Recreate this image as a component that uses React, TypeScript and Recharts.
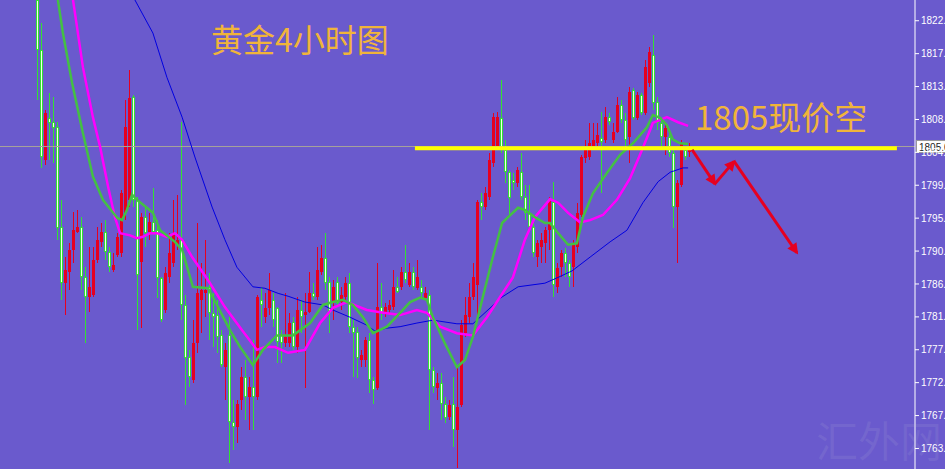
import React from "react";
import { ComposedChart, Bar, Line, XAxis, YAxis, ReferenceLine } from "recharts";

// 4h gold candles (oldest first)
const opens = [
  1825.2, 1818.4, 1803.2, 1809.0, 1808.4, 1807.7, 1794.0, 1786.2, 1787.7, 1790.8,
  1793.3, 1794.0, 1787.0, 1784.3, 1784.6, 1789.4, 1791.9, 1793.3, 1790.5, 1788.0,
  1790.1, 1790.4, 1795.9, 1797.7, 1811.9, 1797.7, 1789.1, 1795.3, 1793.3, 1794.6,
  1793.5, 1786.9, 1782.5, 1787.0, 1789.0, 1791.5, 1792.2, 1783.2, 1776.0, 1772.8,
  1778.0, 1783.9, 1784.9, 1785.7, 1782.1, 1781.8, 1779.0, 1774.6, 1779.0, 1767.0,
  1766.3, 1770.1, 1773.3, 1770.5, 1771.9, 1770.5, 1783.9, 1781.5, 1782.8, 1783.9,
  1782.8, 1779.0, 1778.0, 1778.0, 1780.8, 1777.4, 1782.5, 1781.8, 1782.2, 1784.9,
  1784.3, 1787.7, 1789.7, 1786.4, 1783.5, 1786.4, 1783.6, 1784.3, 1786.2, 1780.1,
  1779.4, 1775.6, 1775.6, 1778.4, 1772.8, 1771.7, 1782.9, 1782.1, 1782.5, 1782.9,
  1785.7, 1785.7, 1787.7, 1785.9, 1787.7, 1785.5, 1785.7, 1784.2, 1784.6, 1774.2,
  1771.7, 1772.4, 1769.6, 1767.7, 1769.6, 1765.9, 1769.4, 1779.3, 1781.5, 1784.3,
  1786.0, 1797.4, 1796.7, 1798.1, 1802.8, 1805.0, 1809.0, 1804.6, 1801.5, 1800.4,
  1800.0, 1801.5, 1798.1, 1795.9, 1794.0, 1789.8, 1791.2, 1791.7, 1793.5, 1797.4,
  1785.7, 1788.4, 1790.4, 1789.0, 1788.4, 1791.2, 1795.6, 1803.5, 1803.6, 1805.0,
  1805.5, 1806.2, 1805.9, 1809.1, 1805.9, 1807.0, 1810.8, 1808.7, 1806.4, 1812.8,
  1809.0, 1812.2, 1809.7, 1813.8, 1817.7, 1811.2, 1808.3, 1806.4, 1806.4, 1804.2,
  1796.7, 1799.7, 1804.6, 1804.3,
];
const highs = [
  1825.3, 1822.1, 1810.1, 1812.4, 1811.9, 1808.4, 1797.7, 1789.8, 1791.7, 1796.0,
  1796.3, 1795.3, 1788.4, 1791.2, 1791.2, 1794.0, 1794.5, 1794.9, 1791.2, 1790.4,
  1793.1, 1799.1, 1811.5, 1815.6, 1812.2, 1798.1, 1795.9, 1796.7, 1795.9, 1799.3,
  1794.9, 1787.0, 1788.4, 1793.1, 1797.7, 1798.4, 1808.4, 1784.6, 1777.0, 1781.1,
  1794.5, 1789.0, 1792.2, 1787.6, 1784.9, 1783.9, 1779.7, 1778.0, 1781.5, 1770.1,
  1770.1, 1774.6, 1775.6, 1773.3, 1778.4, 1784.6, 1785.7, 1784.9, 1787.6, 1784.9,
  1782.9, 1779.7, 1784.9, 1782.1, 1781.5, 1784.3, 1783.9, 1784.9, 1787.7, 1786.2,
  1791.2, 1791.5, 1793.1, 1787.0, 1786.6, 1787.0, 1785.7, 1787.0, 1787.6, 1781.1,
  1780.1, 1777.0, 1778.8, 1779.3, 1773.3, 1789.0, 1786.2, 1783.5, 1783.9, 1788.0,
  1787.0, 1788.4, 1791.5, 1789.0, 1788.4, 1789.4, 1786.6, 1785.7, 1785.3, 1774.6,
  1773.8, 1773.8, 1770.5, 1770.1, 1773.3, 1774.6, 1781.1, 1784.3, 1786.2, 1789.0,
  1797.7, 1798.6, 1799.5, 1804.2, 1809.7, 1809.8, 1814.2, 1805.9, 1801.8, 1801.4,
  1802.2, 1804.2, 1799.7, 1799.7, 1794.5, 1792.2, 1793.1, 1794.0, 1798.1, 1800.1,
  1789.0, 1790.8, 1791.0, 1789.4, 1792.2, 1797.3, 1803.9, 1805.9, 1808.3, 1808.3,
  1808.3, 1809.8, 1810.5, 1809.7, 1808.3, 1811.9, 1811.5, 1809.7, 1813.3, 1813.1,
  1812.6, 1812.4, 1817.0, 1818.8, 1820.4, 1811.9, 1809.0, 1808.0, 1806.9, 1804.6,
  1800.4, 1805.9, 1805.0, 1805.5,
];
const lows = [
  1811.5, 1802.1, 1802.5, 1803.2, 1802.8, 1792.2, 1783.9, 1781.8, 1785.3, 1789.0,
  1793.1, 1785.3, 1778.0, 1782.2, 1784.3, 1789.0, 1791.2, 1789.4, 1787.7, 1787.7,
  1789.8, 1789.8, 1794.9, 1796.7, 1796.7, 1779.7, 1780.0, 1791.2, 1792.2, 1793.1,
  1784.2, 1780.8, 1782.1, 1786.2, 1788.4, 1790.8, 1781.1, 1769.4, 1771.9, 1772.4,
  1776.6, 1779.3, 1781.5, 1778.4, 1777.4, 1776.6, 1774.6, 1770.1, 1761.4, 1763.2,
  1764.1, 1768.7, 1767.3, 1765.9, 1765.9, 1770.1, 1780.1, 1780.7, 1781.8, 1780.1,
  1775.2, 1775.2, 1777.4, 1777.4, 1777.0, 1776.6, 1779.3, 1771.7, 1782.1, 1783.9,
  1783.9, 1787.3, 1785.3, 1779.3, 1781.1, 1782.9, 1782.5, 1783.9, 1779.3, 1773.3,
  1773.1, 1774.6, 1774.6, 1771.0, 1769.6, 1771.4, 1781.1, 1781.5, 1782.1, 1782.5,
  1784.8, 1785.3, 1786.2, 1785.7, 1785.3, 1785.3, 1784.3, 1783.9, 1765.9, 1771.0,
  1770.1, 1767.3, 1766.9, 1767.3, 1763.6, 1760.7, 1769.1, 1778.8, 1780.7, 1783.9,
  1781.5, 1794.9, 1796.3, 1797.7, 1802.2, 1804.6, 1804.2, 1800.0, 1795.6, 1799.0,
  1799.5, 1797.7, 1794.9, 1793.5, 1789.8, 1788.4, 1789.0, 1789.0, 1790.8, 1784.3,
  1784.8, 1787.0, 1787.0, 1785.7, 1785.7, 1790.4, 1795.3, 1802.8, 1803.2, 1804.6,
  1805.0, 1798.6, 1805.5, 1808.0, 1805.5, 1806.9, 1808.3, 1804.6, 1802.8, 1808.7,
  1808.7, 1809.4, 1809.4, 1813.3, 1810.1, 1807.3, 1805.0, 1803.9, 1803.6, 1793.8,
  1789.0, 1799.5, 1803.2, 1803.6,
];
const closes = [
  1818.4, 1803.6, 1809.7, 1808.3, 1807.6, 1793.8, 1786.2, 1788.0, 1790.8, 1793.5,
  1794.0, 1787.0, 1784.3, 1785.7, 1789.4, 1792.2, 1793.3, 1790.5, 1788.4, 1788.7,
  1792.6, 1798.6, 1807.7, 1811.7, 1797.7, 1787.3, 1795.3, 1793.1, 1794.6, 1793.3,
  1786.9, 1781.1, 1787.6, 1790.4, 1792.8, 1792.2, 1783.2, 1775.9, 1773.3, 1778.0,
  1784.9, 1785.3, 1785.3, 1782.1, 1781.5, 1778.8, 1774.9, 1777.0, 1767.0, 1766.3,
  1769.6, 1773.3, 1770.5, 1771.9, 1770.5, 1784.3, 1783.2, 1782.8, 1785.3, 1781.1,
  1778.1, 1778.0, 1778.8, 1780.7, 1777.4, 1782.5, 1781.5, 1782.2, 1784.9, 1784.3,
  1788.0, 1789.7, 1786.2, 1782.1, 1785.7, 1783.5, 1784.6, 1786.2, 1780.1, 1779.3,
  1775.9, 1776.3, 1778.4, 1772.8, 1771.4, 1782.9, 1782.1, 1782.9, 1783.2, 1785.7,
  1785.0, 1787.7, 1786.6, 1787.7, 1785.7, 1787.0, 1784.9, 1784.9, 1774.2, 1771.9,
  1772.4, 1769.6, 1767.6, 1769.4, 1765.9, 1769.1, 1780.4, 1781.8, 1784.3, 1787.0,
  1797.4, 1796.7, 1798.6, 1803.2, 1809.1, 1809.1, 1804.6, 1801.5, 1798.0, 1800.0,
  1801.8, 1798.1, 1795.9, 1794.0, 1790.4, 1791.7, 1792.2, 1793.5, 1797.7, 1785.9,
  1788.3, 1790.4, 1789.0, 1787.0, 1791.7, 1795.9, 1803.6, 1804.8, 1805.5, 1805.9,
  1806.6, 1805.7, 1809.1, 1808.4, 1807.0, 1810.8, 1808.7, 1805.9, 1812.6, 1809.0,
  1812.2, 1809.7, 1816.0, 1818.1, 1811.1, 1808.3, 1806.4, 1807.6, 1804.2, 1796.7,
  1800.0, 1805.5, 1803.6, 1805.0,
];

// moving averages as [bar index, price] points
const maFast = [
  [4.4, 1828.0], [6.4, 1820.7], [8.7, 1813.8], [11.4, 1806.9], [13.9, 1800.9], [16.4, 1797.7],
  [20.0, 1795.2], [21.2, 1794.9], [22.4, 1796.3], [23.7, 1798.4], [24.9, 1797.7], [27.4, 1796.6],
  [28.9, 1795.9], [30.7, 1793.5], [34.4, 1791.9], [36.2, 1790.8], [38.9, 1785.7], [42.7, 1785.5],
  [48.2, 1779.7], [50.7, 1777.4], [53.9, 1774.9], [56.4, 1777.0], [59.9, 1779.0], [63.9, 1779.0],
  [68.2, 1780.7], [71.4, 1783.2], [73.9, 1783.6], [76.4, 1783.9], [78.9, 1783.2], [81.4, 1781.5],
  [83.9, 1779.3], [87.4, 1780.2], [90.7, 1782.1], [93.2, 1783.6], [95.7, 1784.2], [97.4, 1783.9],
  [98.9, 1781.5], [101.9, 1777.9], [104.9, 1774.6], [106.9, 1775.6], [108.9, 1778.8], [111.2, 1783.9],
  [113.7, 1789.4], [116.2, 1794.5], [117.7, 1795.3], [120.2, 1796.6], [121.9, 1796.3], [124.4, 1795.3],
  [126.9, 1794.5], [128.2, 1794.5], [130.2, 1793.1], [132.7, 1791.5], [134.9, 1791.7], [136.4, 1795.3],
  [138.9, 1798.6], [142.4, 1801.4], [145.7, 1803.9], [148.9, 1805.5], [152.4, 1807.7], [153.9, 1809.4],
  [155.7, 1809.0], [157.4, 1808.0], [158.9, 1806.0], [160.7, 1805.5], [162.7, 1805.4],
];
const maMid = [
  [8.2, 1828.0], [11.4, 1816.0], [13.9, 1809.1], [15.7, 1805.0], [17.7, 1799.5], [19.4, 1795.3],
  [20.7, 1793.1], [23.2, 1792.8], [24.9, 1792.4], [26.4, 1792.6], [28.2, 1793.1], [29.9, 1793.1],
  [32.4, 1792.6], [34.4, 1793.1], [36.2, 1792.2], [38.7, 1789.8], [42.7, 1786.6], [46.9, 1782.9],
  [51.2, 1779.7], [54.9, 1777.0], [56.9, 1777.4], [59.4, 1777.4], [62.7, 1776.6], [66.9, 1777.0],
  [70.7, 1780.7], [73.9, 1782.8], [77.4, 1783.6], [82.4, 1782.5], [85.7, 1782.2], [90.7, 1781.8],
  [94.9, 1782.5], [97.4, 1782.1], [100.7, 1780.2], [104.9, 1779.3], [108.9, 1779.0], [112.4, 1781.5],
  [115.7, 1784.3], [118.9, 1787.0], [121.9, 1792.2], [124.4, 1795.3], [128.2, 1797.8], [130.2, 1797.3],
  [132.7, 1795.9], [135.7, 1794.6], [138.2, 1794.9], [141.4, 1795.6], [144.9, 1797.7], [148.2, 1800.7],
  [151.2, 1804.6], [153.9, 1808.3], [157.4, 1809.1], [160.2, 1808.4], [162.7, 1807.9],
];
const maSlow = [
  [22.4, 1827.3], [28.9, 1820.7], [32.4, 1814.6], [36.2, 1809.1], [39.4, 1803.6], [43.7, 1796.7],
  [46.9, 1792.2], [49.9, 1788.4], [53.9, 1785.7], [56.9, 1785.5], [60.2, 1784.8], [62.7, 1784.4],
  [66.9, 1783.6], [71.4, 1783.2], [73.9, 1782.5], [78.2, 1781.5], [82.4, 1780.4], [84.4, 1779.6],
  [87.4, 1780.0], [90.7, 1780.2], [94.9, 1780.7], [98.9, 1781.1], [104.9, 1780.6], [108.9, 1780.6],
  [116.2, 1784.3], [120.2, 1785.7], [126.9, 1786.2], [130.2, 1787.0], [133.7, 1787.9], [138.2, 1789.8],
  [143.2, 1791.9], [147.4, 1793.5], [151.4, 1797.3], [155.2, 1800.2], [158.2, 1801.5], [161.4, 1802.1],
  [162.7, 1802.1],
];

const priceTicks = [
  1763.4, 1767.94, 1772.48, 1777.02, 1781.55, 1786.09, 1790.63,
  1795.17, 1799.71, 1804.25, 1808.78, 1813.32, 1817.86, 1822.4,
];

const lastPrice = 1805.05;
const shortLevel = 1804.8;
const shortFrom = 94.4;
const shortTo = 214.9;
// drawn forecast: down, bounce, then down
const arrowPath = [[163.7, 1804.6], [169.4, 1799.9], [174.2, 1803.0], [189.9, 1790.4]];

const RED = "#E60020";
const GREEN = "#33E033";

const candles = opens.map((o, i) => ({ i, o, h: highs[i], l: lows[i], c: closes[i] }));
const toPts = (arr: number[][]) => arr.map(([i, p]) => ({ i, p }));
const arrowLegs = arrowPath.slice(1).map((pt, k) => toPts([arrowPath[k], pt]));

const Candle = (props: any) => {
  const { x, y, width, height, payload } = props;
  if (x == null || y == null || !payload) return null;
  const top = Math.min(y, y + height);
  const h = Math.abs(height);
  const k = h / (payload.h - payload.l || 1);
  const yo = top + (payload.h - payload.o) * k;
  const yc = top + (payload.h - payload.c) * k;
  const cx = Math.floor(x + width / 2) + 0.5;
  const up = payload.c >= payload.o;
  const bTop = Math.min(yo, yc);
  const bBot = Math.max(yo, yc);
  const bh = Math.max(1, bBot - bTop);
  const col = up ? RED : GREEN;
  return (
    <g shapeRendering="crispEdges">
      <line x1={cx} x2={cx} y1={top} y2={top + h} stroke={col} strokeWidth={1} />
      <rect x={cx - 1.5} y={bTop} width={3} height={bh} fill={col} />
      {!up && bh > 2 && (
        <line x1={cx} x2={cx} y1={bTop + 1} y2={bBot - 1} stroke="#F2FFE6" strokeWidth={1} />
      )}
    </g>
  );
};

const PriceBox = (props: any) => {
  const { viewBox } = props;
  if (!viewBox) return null;
  const right = viewBox.x + viewBox.width;
  const y = viewBox.y;
  return (
    <g>
      <rect x={right + 1.5} y={y - 6} width={32} height={12} fill="#ffffff" stroke="#999" strokeWidth={1} />
      <text x={right + 4} y={y + 4} fontSize={10} fontFamily="Liberation Sans, sans-serif" fill="#222">
        {lastPrice.toFixed(2)}
      </text>
    </g>
  );
};

const GoldChart = () => {
  return (
    <div
      style={{
        position: "fixed",
        left: 0,
        top: 0,
        width: 945,
        height: 469,
        background: "#6A5ACD",
        overflow: "hidden",
      }}
    >
      <ComposedChart
        width={945}
        height={469}
        data={candles}
        margin={{ top: 0, right: 0, bottom: 0, left: 0 }}
      >
        <defs>
          <marker
            id="arrowRed"
            viewBox="0 0 10 10"
            refX="8"
            refY="5"
            markerWidth="13"
            markerHeight="11"
            markerUnits="userSpaceOnUse"
            orient="auto"
          >
            <path d="M0,0 L10,5 L0,10 z" fill={RED} />
          </marker>
        </defs>
        <XAxis
          dataKey="i"
          type="number"
          domain={[-9.325, 219.425]}
          allowDataOverflow
          hide
        />
        <YAxis
          orientation="right"
          width={30}
          domain={[1760.57, 1825.26]}
          allowDataOverflow
          ticks={priceTicks}
          interval={0}
          tickFormatter={(v: number) => v.toFixed(2)}
          axisLine={{ stroke: "#ffffff" }}
          tickLine={{ stroke: "#ffffff" }}
          tickSize={4}
          tickMargin={2}
          tick={{ fill: "#ffffff", fontSize: 10, fontFamily: "Liberation Sans, sans-serif" }}
        />
        <ReferenceLine y={lastPrice} stroke="#A7A39A" strokeWidth={1} label={<PriceBox />} />
        <Bar
          dataKey={(d: any) => [d.l, d.h]}
          barSize={3}
          shape={(p: any) => <Candle {...p} />}
          isAnimationActive={false}
        />
        <Line data={toPts(maSlow)} dataKey="p" type="linear" stroke="#0000E0" strokeWidth={1} dot={false} activeDot={false} isAnimationActive={false} />
        <Line data={toPts(maMid)} dataKey="p" type="linear" stroke="#FF00FF" strokeWidth={2.5} dot={false} activeDot={false} isAnimationActive={false} />
        <Line data={toPts(maFast)} dataKey="p" type="linear" stroke="#44C044" strokeWidth={2.5} dot={false} activeDot={false} isAnimationActive={false} />
        <ReferenceLine
          segment={[
            { x: shortFrom, y: shortLevel },
            { x: shortTo, y: shortLevel },
          ]}
          stroke="#FFFF00"
          strokeWidth={4}
        />
        {arrowLegs.map((leg, k) => (
          <Line
            key={k}
            data={leg}
            dataKey="p"
            type="linear"
            stroke={RED}
            strokeWidth={3}
            markerEnd="url(#arrowRed)"
            dot={false}
            activeDot={false}
            isAnimationActive={false}
          />
        ))}
      </ComposedChart>
      <div
        style={{
          position: "absolute",
          left: 211,
          top: 22,
          fontSize: 32,
          lineHeight: "32px",
          color: "#F0B43A",
          fontFamily: "'Noto Sans CJK SC', sans-serif",
          whiteSpace: "nowrap",
        }}
      >
        黄金4小时图
      </div>
      <div
        style={{
          position: "absolute",
          left: 695,
          top: 100,
          fontSize: 33,
          lineHeight: "33px",
          color: "#F0B43A",
          fontFamily: "'Noto Sans CJK SC', sans-serif",
          whiteSpace: "nowrap",
        }}
      >
        1805现价空
      </div>
      <div
        style={{
          position: "absolute",
          left: 816,
          top: 418,
          fontSize: 42,
          lineHeight: "42px",
          color: "rgba(190,190,215,0.13)",
          fontFamily: "'Noto Sans CJK SC', serif",
          whiteSpace: "nowrap",
          pointerEvents: "none",
        }}
      >
        汇外网
      </div>
    </div>
  );
};

export default function App() {
  return <GoldChart />;
}
